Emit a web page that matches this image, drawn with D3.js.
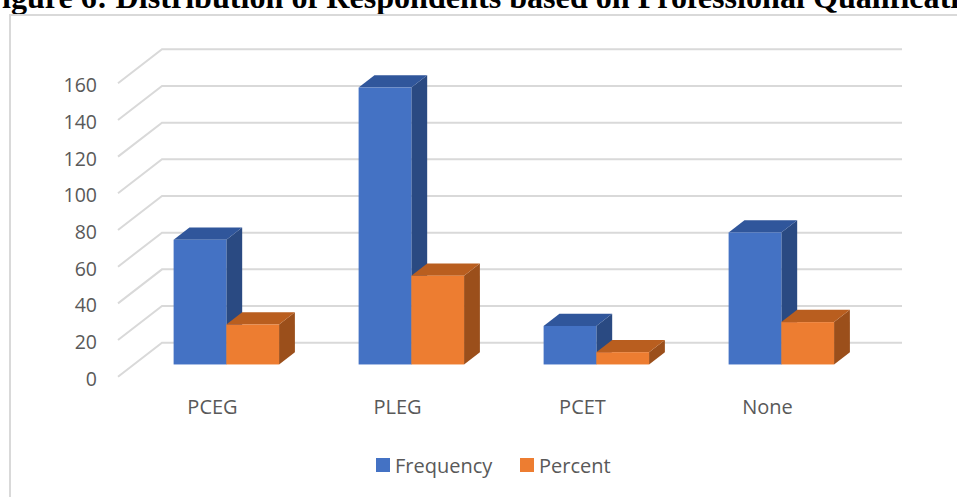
<!DOCTYPE html>
<html>
<head>
<meta charset="utf-8">
<script src="https://cdn.jsdelivr.net/npm/d3@7"></script>
<style>
  html, body { margin: 0; padding: 0; background: #fff; overflow: hidden; }
  svg { display: block; }
</style>
</head>
<body>
<svg id="chart" width="957" height="497"></svg>
<script>
// Data
const categories = ["PCEG", "PLEG", "PCET", "None"];
const seriesNames = ["Frequency", "Percent"];
const frequency = [68, 151, 21, 72];
const percent = [21.8, 48.4, 6.7, 23.1];
const yTicks = [0, 20, 40, 60, 80, 100, 120, 140, 160];
const titleText = "Figure 6: Distribution of Respondents based on Professional Qualification";

const colors = {
  Frequency: { front: "#4472C4", top: "#30569b", side: "#2a4a82" },
  Percent:   { front: "#ED7D31", top: "#b95e1f", side: "#9b4f1b" }
};

const svg = d3.select("#chart");
const W = 957, H = 497;

// Title (bold serif, runs past the page edges)
const title = svg.append("text")
  .attr("font-family", "'Liberation Serif', 'Times New Roman', serif")
  .attr("font-weight", "bold")
  .attr("font-size", 30)
  .attr("fill", "#000")
  .text(titleText);
const probe = svg.append("text")
  .attr("font-family", "'Liberation Serif', 'Times New Roman', serif")
  .attr("font-weight", "bold").attr("font-size", 30);
probe.text("igure 6: Distribution of Respondents based on Professional Qualificati");
const wVisible = probe.node().getComputedTextLength();
probe.text("F");
const wF = probe.node().getComputedTextLength();
probe.remove();
const tSize = 30 * 958 / wVisible;
title.attr("font-size", tSize)
  .attr("x", 2 - wF * tSize / 30)
  .attr("y", 7.5);

// Chart frame
svg.append("rect")
  .attr("x", 10).attr("y", 15)
  .attr("width", W + 20).attr("height", H + 20)
  .attr("fill", "none").attr("stroke", "#d9d9d9").attr("stroke-width", 2);

// Oblique depth of the 3-D floor/walls
const depth = { dx: 44, dy: -34 };
const barFront = 0.36, barBack = 0.72;

const x = d3.scaleBand().domain(categories).range([118, 858]);
const y = d3.scaleLinear().domain([0, 160]).range([376.7, 83.3]);
const groupPad = x.bandwidth() * 0.215;
const xs = d3.scaleBand().domain(seriesNames).range([groupPad, x.bandwidth() - groupPad]);

// Gridlines: diagonal on the side wall then horizontal on the back wall
const gx0 = x.range()[0], gx1 = x.range()[1];
svg.append("g").selectAll("path").data(yTicks).join("path")
  .attr("d", v => {
    const yf = y(v);
    return `M${gx0},${yf}L${gx0 + depth.dx},${yf + depth.dy}L${gx1 + depth.dx},${yf + depth.dy}`;
  })
  .attr("fill", "none").attr("stroke", "#d9d9d9").attr("stroke-width", 2);

// Y axis labels
svg.append("g").selectAll("text").data(yTicks).join("text")
  .attr("x", 97).attr("y", v => y(v) + 2)
  .attr("dy", "0.36em")
  .attr("text-anchor", "end")
  .attr("font-family", "'Open Sans', sans-serif")
  .attr("font-size", 19.5)
  .attr("fill", "#595959")
  .text(d => d);

// Bars
const rows = [];
categories.forEach((c, i) => {
  rows.push({ cat: c, s: "Frequency", v: frequency[i] });
  rows.push({ cat: c, s: "Percent", v: percent[i] });
});
const ox = barFront * depth.dx, oy = barFront * depth.dy;
const bx = (barBack - barFront) * depth.dx, by = (barBack - barFront) * depth.dy;
const bars = svg.append("g");
rows.forEach(d => {
  const x0 = x(d.cat) + xs(d.s) + ox;
  const x1 = x0 + xs.bandwidth();
  const yt = y(d.v) + oy;
  const yb = y(0) + oy;
  const col = colors[d.s];
  const g = bars.append("g");
  g.append("path")
    .attr("d", `M${x1},${yt}L${x1 + bx},${yt + by}L${x1 + bx},${yb + by}L${x1},${yb}Z`)
    .attr("fill", col.side);
  g.append("path")
    .attr("d", `M${x0},${yt}L${x1},${yt}L${x1 + bx},${yt + by}L${x0 + bx},${yt + by}Z`)
    .attr("fill", col.top);
  g.append("rect")
    .attr("x", x0).attr("y", yt)
    .attr("width", x1 - x0).attr("height", yb - yt)
    .attr("fill", col.front);
});

// Category labels
svg.append("g").selectAll("text").data(categories).join("text")
  .attr("x", c => x(c) + x.bandwidth() / 2 + 2)
  .attr("y", 414)
  .attr("text-anchor", "middle")
  .attr("font-family", "'Open Sans', sans-serif")
  .attr("font-size", 20)
  .attr("fill", "#595959")
  .text(c => c);

// Legend
const legendX = [376, 520];
const legend = svg.append("g");
seriesNames.forEach((s, i) => {
  legend.append("rect")
    .attr("x", legendX[i]).attr("y", 458)
    .attr("width", 14).attr("height", 14)
    .attr("fill", colors[s].front);
  legend.append("text")
    .attr("x", legendX[i] + 19).attr("y", 473)
    .attr("font-family", "'Open Sans', sans-serif")
    .attr("font-size", 20)
    .attr("fill", "#595959")
    .text(s);
});
</script>
</body>
</html>
